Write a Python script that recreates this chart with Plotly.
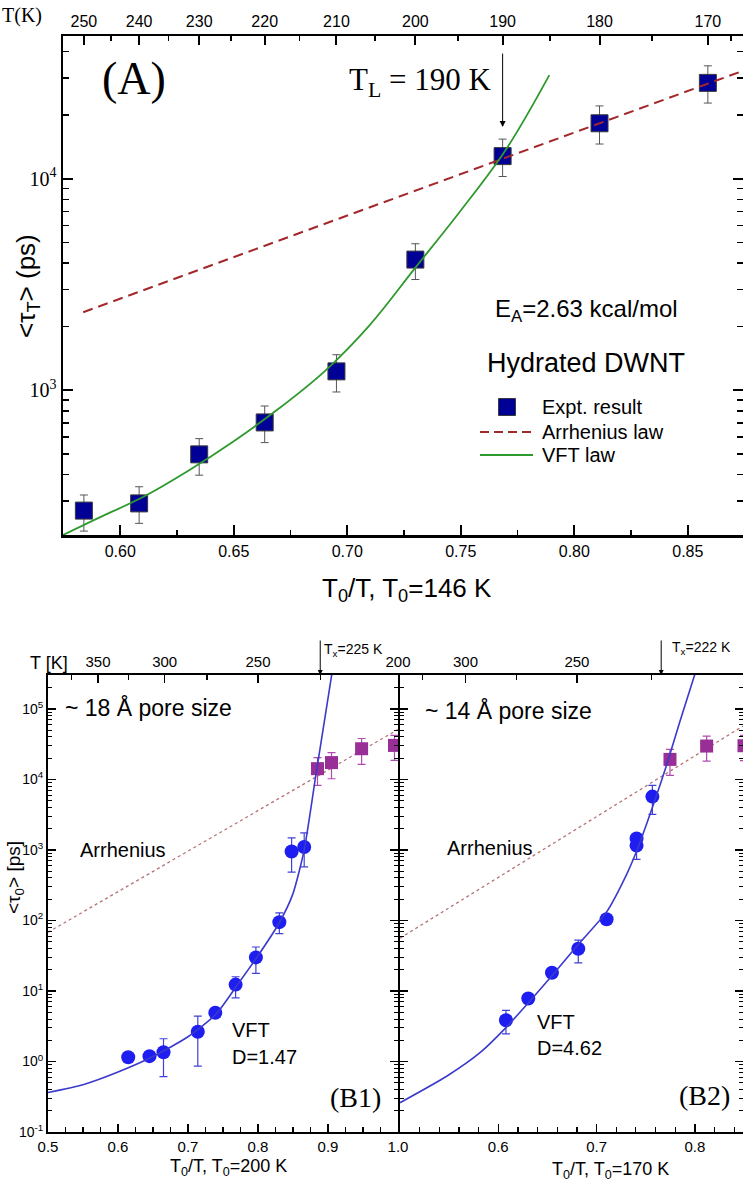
import numpy as np
import plotly.graph_objects as go

W, H = 743, 1184
SANS = "Liberation Sans, Arial, sans-serif"
SERIF = "Liberation Serif, Times New Roman, serif"

# ---------------- Panel A data (hydrated DWNT) ----------------
A_T0 = 146
A_T = [250, 240, 230, 220, 210, 200, 190, 180, 170]
A_tau = [270, 292, 498, 705, 1229, 4150, 12800, 18300, 28400]
A_tau_hi = [320, 350, 591, 843, 1473, 4930, 15400, 22100, 34200]
A_tau_lo = [216, 235, 397, 566, 982, 3340, 10250, 14600, 22800]
A_arr_x = [0.5837, 0.8743]
A_arr_tau = [2340, 32400]
A_vft_x = [0.5748, 0.59, 0.61, 0.63, 0.65, 0.67, 0.69, 0.71, 0.73, 0.75, 0.77, 0.789]
A_vft_tau = [207, 248, 313, 417, 575, 822, 1230, 2040, 3800, 7080, 13800, 30900]
A_xticks = [0.60, 0.65, 0.70, 0.75, 0.80, 0.85]
A_xticklabels = ["0.60", "0.65", "0.70", "0.75", "0.80", "0.85"]
A_top_T = [250, 240, 230, 220, 210, 200, 190, 180, 170]
A_top_minor_T = [245, 235, 225, 215, 205, 195, 185, 175, 168]
A_TL = 190
A_legend = ["Expt. result", "Arrhenius law", "VFT law"]

# ---------------- Panel B1 data (~18 A pore) ----------------
B1_T0 = 200
B1_x = [0.6146, 0.645, 0.665, 0.714, 0.739, 0.768, 0.797, 0.8305, 0.848, 0.866]
B1_tau = [1.15, 1.19, 1.35, 2.64, 4.9, 12.3, 29.9, 94.6, 950, 1100]
B1_tau_hi = [1.15, 1.19, 2.1, 4.4, 4.9, 15.9, 42, 128, 1480, 1740]
B1_tau_lo = [1.15, 1.19, 0.61, 0.86, 4.9, 8.0, 17.7, 65, 484, 573]
B1_sq_x = [0.885, 0.905, 0.948, 0.995]
B1_sq_tau = [14200, 17300, 27200, 30300]
B1_sq_hi = [20400, 24000, 38000, 42000]
B1_sq_lo = [8200, 10200, 16300, 18600]
B1_arr_x = [0.5, 1.0]
B1_arr_tau = [68, 51000]
B1_vft_x = [0.5, 0.55, 0.6, 0.65, 0.7, 0.74, 0.77, 0.8, 0.83, 0.85, 0.866, 0.8825, 0.9054]
B1_vft_tau = [0.363, 0.468, 0.708, 1.175, 2.24, 4.68, 12.0, 31.6, 91.2, 240, 1000, 11200, 309000]
B1_xticks = [0.5, 0.6, 0.7, 0.8, 0.9, 1.0]
B1_top_T = [350, 300, 250, 200]
B1_top_minor_T = [375, 325, 275, 225]
B1_Tx = 225

# ---------------- Panel B2 data (~14 A pore) ----------------
B2_T0 = 170
B2_x = [0.6078, 0.6305, 0.6546, 0.6814, 0.7102, 0.7407, 0.7407, 0.7568]
B2_tau = [3.85, 7.8, 18.1, 39.7, 104, 1150, 1450, 5700]
B2_tau_hi = [5.3, 7.8, 18.1, 52.6, 104, 1150, 1650, 8200]
B2_tau_lo = [2.47, 7.8, 18.1, 25, 104, 733, 1450, 3200]
B2_sq_x = [0.7747, 0.812, 0.85]
B2_sq_tau = [19200, 29700, 30000]
B2_sq_hi = [26700, 41000, 42000]
B2_sq_lo = [11400, 18100, 18500]
B2_arr_x = [0.5, 0.849]
B2_arr_tau = [56, 57000]
B2_vft_x = [0.5, 0.5475, 0.5814, 0.6078, 0.6305, 0.6546, 0.6814, 0.7102, 0.7305, 0.7407, 0.7568, 0.7712, 0.7848, 0.80]
B2_vft_tau = [0.26, 0.617, 1.33, 3.02, 6.76, 16.4, 45.7, 132, 447, 955, 3980, 15850, 66100, 309000]
B2_xticks = [0.6, 0.7, 0.8]
B2_top_T = [300, 250, 200]
B2_top_minor_T = [325, 275, 225]
B2_Tx = 222

B_yticks = [0.1, 1, 10, 100, 1000, 10000, 100000]
B_yticklabels = ["10<sup>-1</sup>", "10<sup>0</sup>", "10<sup>1</sup>", "10<sup>2</sup>",
                 "10<sup>3</sup>", "10<sup>4</sup>", "10<sup>5</sup>"]

# ---------------- colours ----------------
C_SQ = "#000096"
C_ARR_A = "#a3282b"
C_VFT_A = "#2e9a2e"
C_BLUE = "#1e1ef0"
C_VFT_B = "#3a3acc"
C_PURP = "#992e96"
C_ARR_B = "#b47474"

# ---------------- helpers ----------------
def px_x(p):
    return p / W

def px_y(p):
    return 1 - p / H

def log_minor(e0, e1):
    return [m * 10.0 ** k for k in range(e0, e1 + 1) for m in range(2, 10)]

def errs(v, hi, lo):
    v, hi, lo = np.array(v, float), np.array(hi, float), np.array(lo, float)
    return hi - v, v - lo

fig = go.Figure()

# ---------------- Panel A traces ----------------
ep, em = errs(A_tau, A_tau_hi, A_tau_lo)
A_x = [A_T0 / t for t in A_T]
fig.add_trace(go.Scatter(
    x=A_x, y=A_tau, mode="markers", name=A_legend[0], showlegend=False,
    marker=dict(symbol="square", size=17, color=C_SQ, line=dict(color="#3a3a3a", width=1)),
    error_y=dict(type="data", symmetric=False, array=ep, arrayminus=em,
                 color="#555555", thickness=1, width=4),
    xaxis="x", yaxis="y"))
fig.add_trace(go.Scatter(
    x=A_arr_x, y=A_arr_tau, mode="lines", name=A_legend[1], showlegend=False,
    line=dict(color=C_ARR_A, width=2, dash="10px,6px"), xaxis="x", yaxis="y"))
fig.add_trace(go.Scatter(
    x=A_vft_x, y=A_vft_tau, mode="lines", name=A_legend[2], showlegend=False,
    line=dict(color=C_VFT_A, width=1.8, shape="spline", smoothing=1.0), xaxis="x", yaxis="y"))
# invisible copy so that the top temperature axis is drawn
fig.add_trace(go.Scatter(x=A_x, y=A_tau, mode="markers", marker=dict(opacity=0),
                         hoverinfo="skip", showlegend=False, xaxis="x2", yaxis="y"))

# ---------------- Panel B1 traces ----------------
fig.add_trace(go.Scatter(
    x=B1_arr_x, y=B1_arr_tau, mode="lines", showlegend=False,
    line=dict(color=C_ARR_B, width=1.3, dash="3px,3px"), xaxis="x3", yaxis="y2"))
ep, em = errs(B1_sq_tau, B1_sq_hi, B1_sq_lo)
fig.add_trace(go.Scatter(
    x=B1_sq_x, y=B1_sq_tau, mode="markers", showlegend=False,
    marker=dict(symbol="square", size=13, color=C_PURP),
    error_y=dict(type="data", symmetric=False, array=ep, arrayminus=em,
                 color="#b04ab0", thickness=1.2, width=4),
    xaxis="x3", yaxis="y2"))
ep, em = errs(B1_tau, B1_tau_hi, B1_tau_lo)
fig.add_trace(go.Scatter(
    x=B1_x, y=B1_tau, mode="markers", showlegend=False,
    marker=dict(symbol="circle", size=14, color=C_BLUE),
    error_y=dict(type="data", symmetric=False, array=ep, arrayminus=em,
                 color="#4040d8", thickness=1.2, width=4),
    xaxis="x3", yaxis="y2"))
fig.add_trace(go.Scatter(
    x=B1_vft_x, y=B1_vft_tau, mode="lines", showlegend=False,
    line=dict(color=C_VFT_B, width=1.6, shape="spline", smoothing=0.6), xaxis="x3", yaxis="y2"))
fig.add_trace(go.Scatter(x=B1_x, y=B1_tau, mode="markers", marker=dict(opacity=0),
                         hoverinfo="skip", showlegend=False, xaxis="x4", yaxis="y2"))

# ---------------- Panel B2 traces ----------------
fig.add_trace(go.Scatter(
    x=B2_arr_x, y=B2_arr_tau, mode="lines", showlegend=False,
    line=dict(color=C_ARR_B, width=1.3, dash="3px,3px"), xaxis="x5", yaxis="y3"))
ep, em = errs(B2_sq_tau, B2_sq_hi, B2_sq_lo)
fig.add_trace(go.Scatter(
    x=B2_sq_x, y=B2_sq_tau, mode="markers", showlegend=False,
    marker=dict(symbol="square", size=13, color=C_PURP),
    error_y=dict(type="data", symmetric=False, array=ep, arrayminus=em,
                 color="#b04ab0", thickness=1.2, width=4),
    xaxis="x5", yaxis="y3"))
ep, em = errs(B2_tau, B2_tau_hi, B2_tau_lo)
fig.add_trace(go.Scatter(
    x=B2_x, y=B2_tau, mode="markers", showlegend=False,
    marker=dict(symbol="circle", size=14, color=C_BLUE),
    error_y=dict(type="data", symmetric=False, array=ep, arrayminus=em,
                 color="#4040d8", thickness=1.2, width=4),
    xaxis="x5", yaxis="y3"))
fig.add_trace(go.Scatter(
    x=B2_vft_x, y=B2_vft_tau, mode="lines", showlegend=False,
    line=dict(color=C_VFT_B, width=1.6, shape="spline", smoothing=0.6), xaxis="x5", yaxis="y3"))
fig.add_trace(go.Scatter(x=B2_x, y=B2_tau, mode="markers", marker=dict(opacity=0),
                         hoverinfo="skip", showlegend=False, xaxis="x6", yaxis="y3"))

# ---------------- axes ----------------
A_dom_x = [px_x(63), 1.0]
A_dom_y = [px_y(535), px_y(36)]
B1_dom_x = [px_x(48), px_x(398)]
B2_dom_x = [px_x(400), 1.0]
B_dom_y = [px_y(1132), px_y(675)]

def xstyle(lw, fs, font=SANS):
    return dict(showline=True, linecolor="black", linewidth=lw, ticks="inside",
                tickcolor="black", showgrid=False, zeroline=False, automargin=False,
                tickfont=dict(family=font, size=fs, color="black"))

fig.update_layout(
    width=W, height=H, autosize=False,
    margin=dict(l=0, r=0, t=0, b=0, pad=0),
    paper_bgcolor="white", plot_bgcolor="white",
    showlegend=False, hovermode=False,
    # Panel A
    xaxis=dict(**xstyle(2.5, 16), domain=A_dom_x, anchor="y", range=[0.5748, 0.8743],
               tickmode="array", tickvals=A_xticks, ticktext=A_xticklabels,
               ticklen=10, tickwidth=2,
               minor=dict(ticks="inside", dtick=0.025, tick0=0.0, ticklen=5, tickwidth=1.5,
                          tickcolor="black", showgrid=False)),
    xaxis2=dict(**xstyle(2.5, 16), overlaying="x", anchor="y", side="top",
                range=[0.5748, 0.8743], tickmode="array",
                tickvals=[A_T0 / t for t in A_top_T], ticktext=[str(t) for t in A_top_T],
                ticklen=9, tickwidth=2,
                minor=dict(ticks="inside", tickmode="array",
                           tickvals=[A_T0 / t for t in A_top_minor_T], ticklen=5, tickwidth=1.5,
                           tickcolor="black", showgrid=False)),
    yaxis=dict(**xstyle(2.5, 20, SERIF), domain=A_dom_y, anchor="x", type="log",
               range=[2.316, 4.675], mirror="ticks", tickmode="array",
               tickvals=[1000, 10000], ticktext=["10<sup>3</sup>", "10<sup>4</sup>"],
               ticklen=10, tickwidth=2,
               minor=dict(ticks="inside", tickmode="array", tickvals=log_minor(2, 4),
                          ticklen=6, tickwidth=1.5, tickcolor="black", showgrid=False)),
    # Panel B1
    xaxis3=dict(**xstyle(2, 15), domain=B1_dom_x, anchor="y2", range=[0.5, 1.0],
                tickmode="array", tickvals=B1_xticks,
                ticktext=["0.5", "0.6", "0.7", "0.8", "0.9", "1.0"],
                ticklen=8, tickwidth=1.5,
                minor=dict(ticks="inside", dtick=0.025, tick0=0.0, ticklen=5, tickwidth=1.2,
                           tickcolor="black", showgrid=False)),
    xaxis4=dict(**xstyle(2, 15), overlaying="x3", anchor="y2", side="top", range=[0.5, 1.0],
                tickmode="array", tickvals=[B1_T0 / t for t in B1_top_T],
                ticktext=[str(t) for t in B1_top_T], ticklen=8, tickwidth=1.5,
                minor=dict(ticks="inside", tickmode="array",
                           tickvals=[B1_T0 / t for t in B1_top_minor_T], ticklen=5, tickwidth=1.2,
                           tickcolor="black", showgrid=False)),
    yaxis2=dict(**xstyle(2, 14), domain=B_dom_y, anchor="x3", type="log", range=[-1, 5.48],
                mirror="ticks", tickmode="array", tickvals=B_yticks, ticktext=B_yticklabels,
                ticklen=8, tickwidth=1.5,
                minor=dict(ticks="inside", tickmode="array", tickvals=log_minor(-1, 5),
                           ticklen=4, tickwidth=1, tickcolor="black", showgrid=False)),
    # Panel B2
    xaxis5=dict(**xstyle(2, 15), domain=B2_dom_x, anchor="y3", range=[0.5, 0.849],
                tickmode="array", tickvals=B2_xticks, ticktext=["0.6", "0.7", "0.8"],
                ticklen=8, tickwidth=1.5,
                minor=dict(ticks="inside", dtick=0.02, tick0=0.0, ticklen=5, tickwidth=1.2,
                           tickcolor="black", showgrid=False)),
    xaxis6=dict(**xstyle(2, 15), overlaying="x5", anchor="y3", side="top", range=[0.5, 0.849],
                tickmode="array", tickvals=[B2_T0 / t for t in B2_top_T],
                ticktext=[str(t) for t in B2_top_T], ticklen=8, tickwidth=1.5,
                minor=dict(ticks="inside", tickmode="array",
                           tickvals=[B2_T0 / t for t in B2_top_minor_T], ticklen=5, tickwidth=1.2,
                           tickcolor="black", showgrid=False)),
    yaxis3=dict(**xstyle(2, 14), domain=B_dom_y, anchor="x5", type="log", range=[-1, 5.48],
                mirror="ticks", tickmode="array", tickvals=B_yticks, showticklabels=False,
                ticklen=8, tickwidth=1.5,
                minor=dict(ticks="inside", tickmode="array", tickvals=log_minor(-1, 5),
                           ticklen=4, tickwidth=1, tickcolor="black", showgrid=False)),
)

# ---------------- annotations ----------------
ann = []
shapes = []

def txt(text, x, y, size, family=SANS, xanchor="left", yanchor="middle", angle=0):
    ann.append(dict(text=text, x=px_x(x), y=px_y(y), xref="paper", yref="paper",
                    xanchor=xanchor, yanchor=yanchor, showarrow=False, textangle=angle,
                    font=dict(family=family, size=size, color="black")))

# Panel A
txt("T(K)", 0, 16, 20, SERIF)
txt("(A)", 134, 78, 46, SERIF, xanchor="center")
txt("T<sub>L</sub> = 190 K", 493, 82, 31, SERIF, xanchor="right")
txt("E<sub>A</sub>=2.63 kcal/mol", 493, 311, 24)
txt("Hydrated DWNT", 485, 363, 27)
txt("&lt;τ<sub>T</sub>&gt; (ps)", 27, 286, 26, angle=-90, xanchor="center")
txt("T<sub>0</sub>/T, T<sub>0</sub>=146 K", 407, 590, 26, xanchor="center")
ann.append(dict(x=A_T0 / A_TL, y=np.log10(A_tau[A_T.index(A_TL)]), xref="x", yref="y",
                text="", showarrow=True, ax=0, ay=-104, axref="pixel", ayref="pixel",
                standoff=29, arrowhead=2, arrowsize=1.2, arrowwidth=1, arrowcolor="black"))

# Panel A legend (drawn by hand to match the compact spacing)
shapes.append(dict(type="rect", xref="paper", yref="paper",
                   x0=px_x(498.5), x1=px_x(515.5), y0=px_y(415.5), y1=px_y(398.5),
                   fillcolor=C_SQ, line=dict(color="#3a3a3a", width=1)))
shapes.append(dict(type="line", xref="paper", yref="paper",
                   x0=px_x(480), x1=px_x(533), y0=px_y(432), y1=px_y(432),
                   line=dict(color=C_ARR_A, width=2, dash="9px,5px")))
shapes.append(dict(type="line", xref="paper", yref="paper",
                   x0=px_x(480), x1=px_x(533), y0=px_y(455), y1=px_y(455),
                   line=dict(color=C_VFT_A, width=2)))
txt(A_legend[0], 540, 407, 20)
txt(A_legend[1], 540, 432, 20)
txt(A_legend[2], 540, 455, 20)

# Panel B1
txt("T [K]", 28, 663, 18)
txt("T<sub>x</sub>=225 K", 322, 650, 14)
ann.append(dict(x=B1_T0 / B1_Tx, y=1, xref="x3", yref="y2 domain", text="", showarrow=True,
                ax=0, ay=-36, arrowhead=2, arrowsize=1, arrowwidth=1, arrowcolor="black"))
txt("~ 18 Å pore size", 63, 707, 23)
txt("Arrhenius", 78, 850, 20)
txt("VFT", 230, 1030, 20)
txt("D=1.47", 230, 1057, 20)
txt("(B1)", 355, 1097, 28, SERIF, xanchor="center")
txt("&lt;τ<sub>0</sub>&gt; [ps]", 15, 878, 19, angle=-90, xanchor="center")
txt("T<sub>0</sub>/T, T<sub>0</sub>=200 K", 228, 1167, 18, xanchor="center")

# Panel B2
txt("T<sub>x</sub>=222 K", 670, 648, 14)
ann.append(dict(x=B2_T0 / B2_Tx, y=1, xref="x5", yref="y3 domain", text="", showarrow=True,
                ax=0, ay=-36, arrowhead=2, arrowsize=1, arrowwidth=1, arrowcolor="black"))
txt("~ 14 Å pore size", 423, 710, 23)
txt("Arrhenius", 445, 848, 20)
txt("VFT", 535, 1022, 20)
txt("D=4.62", 535, 1048, 20)
txt("(B2)", 704, 1095, 28, SERIF, xanchor="center")
txt("T<sub>0</sub>/T, T<sub>0</sub>=170 K", 610, 1170, 18, xanchor="center")

fig.update_layout(annotations=ann, shapes=shapes)
fig.write_html("out.html", config={"displayModeBar": False, "staticPlot": True},
               post_script="document.body.style.margin='0px';document.body.style.padding='0px';")
